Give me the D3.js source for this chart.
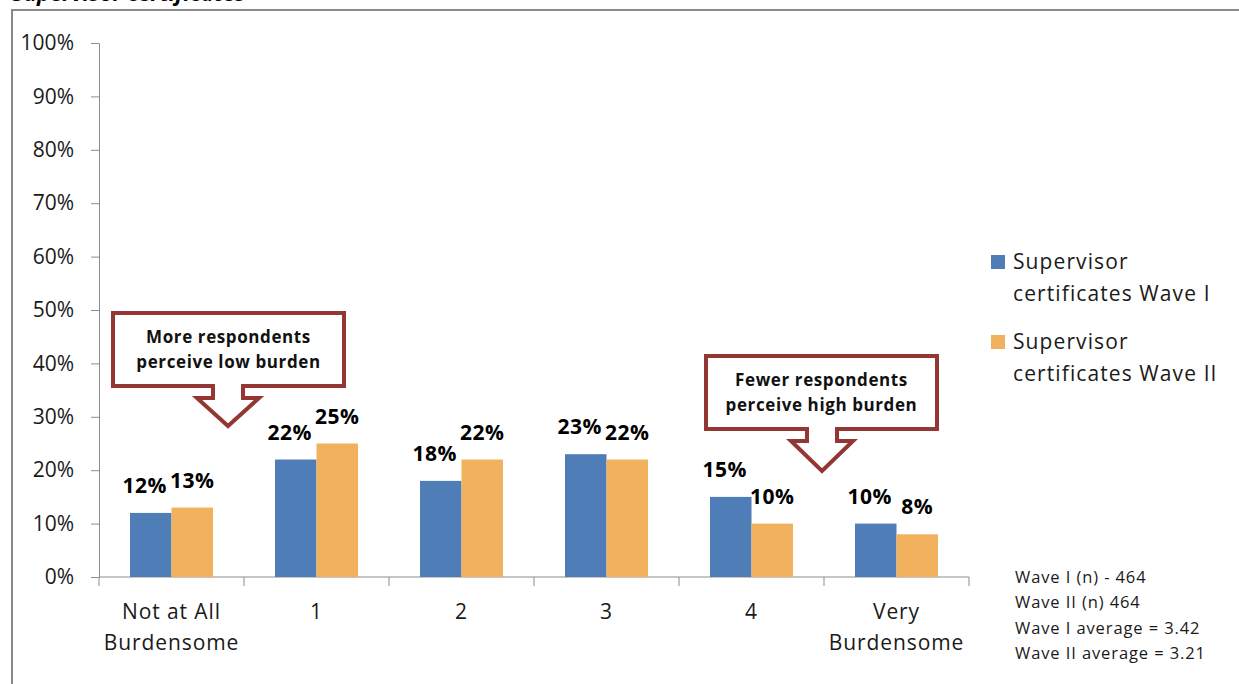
<!DOCTYPE html>
<html>
<head>
  <meta charset="utf-8">
  <title>Supervisor certificates burden</title>
  <script src="https://d3js.org/d3.v7.min.js"></script>
  <style>
    body { margin: 0; background: #fff; font-family: 'Open Sans', sans-serif; }
    svg { display: block; }
  </style>
</head>
<body>
  <div id="chart"></div>
  <script>
    // data
    const categories = ["Not at All|Burdensome", "1", "2", "3", "4", "Very|Burdensome"];
    const seriesNames = ["Supervisor|certificates Wave I", "Supervisor|certificates Wave II"];
    const waveOne = [0.12, 0.22, 0.18, 0.23, 0.15, 0.10];
    const waveTwo = [0.13, 0.25, 0.22, 0.22, 0.10, 0.08];
    const yTicks = [0, 0.1, 0.2, 0.3, 0.4, 0.5, 0.6, 0.7, 0.8, 0.9, 1.0];
    const notes = ["Wave I (n) - 464", "Wave II (n) 464", "Wave I average = 3.42", "Wave II average = 3.21"];
    const callouts = [
      { lines: ["More respondents", "perceive low burden"], cat: 0 },
      { lines: ["Fewer respondents", "perceive high burden"], cat: 4 }
    ];

    const colors = ["#4F7DB8", "#F2B15C"];
    const red = "#943634";

    const W = 1239, H = 684;
    const svg = d3.select("#chart").append("svg").attr("width", W).attr("height", H);

    // title, mostly above the top edge
    svg.append("text")
      .attr("x", 12).attr("y", 1)
      .attr("font-size", 22).attr("font-weight", "bold").attr("font-style", "italic")
      .attr("fill", "#000")
      .text("Supervisor certificates");

    // chart frame
    svg.append("path")
      .attr("d", `M12,${H + 5} L12,10 L${W + 5},10`)
      .attr("fill", "none").attr("stroke", "#8a8a8a").attr("stroke-width", 2);

    const x = d3.scaleBand().domain(d3.range(categories.length)).range([99, 969]);
    const x1 = d3.scaleBand().domain([0, 1]).range([31, x.bandwidth() - 31]);
    const y = d3.scaleLinear().domain([0, 1]).range([577, 43]);

    // y axis
    const yAxis = svg.append("g")
      .attr("transform", "translate(99,0)")
      .call(d3.axisLeft(y).tickValues(yTicks).tickFormat(d3.format(".0%")).tickSize(8).tickSizeOuter(0).tickPadding(17));
    yAxis.selectAll("path, line").attr("stroke", "#8c8c8c");
    yAxis.selectAll("text").attr("font-family", "'Open Sans', sans-serif").attr("font-size", 21).attr("fill", "#1a1a1a");

    // x axis line and boundary ticks
    svg.append("line")
      .attr("x1", 99).attr("x2", 969).attr("y1", y(0)).attr("y2", y(0))
      .attr("stroke", "#8c8c8c");
    const bounds = d3.range(categories.length + 1).map(i => i < categories.length ? x(i) : x(i - 1) + x.bandwidth());
    svg.selectAll(".xtick").data(bounds).enter().append("line")
      .attr("x1", d => d).attr("x2", d => d)
      .attr("y1", y(0)).attr("y2", y(0) + 9)
      .attr("stroke", "#8c8c8c");

    const xLabels = svg.selectAll(".xlab").data(categories).enter().append("text")
      .attr("text-anchor", "middle").attr("font-size", 21).attr("letter-spacing", 0.9).attr("fill", "#1a1a1a")
      .attr("transform", (d, i) => `translate(${x(i) + x.bandwidth() / 2},619)`);
    xLabels.selectAll("tspan").data(d => d.split("|")).enter().append("tspan")
      .attr("x", 0).attr("y", (d, i) => i * 31).text(d => d);

    // bars
    const series = [waveOne, waveTwo];
    series.forEach((vals, s) => {
      svg.selectAll(".bar" + s).data(vals).enter().append("rect")
        .attr("x", (d, i) => x(i) + x1(s))
        .attr("y", d => y(d))
        .attr("width", x1.bandwidth())
        .attr("height", d => y(0) - y(d))
        .attr("fill", colors[s]);

      svg.selectAll(".lab" + s).data(vals).enter().append("text")
        .attr("x", (d, i) => x(i) + x1(s) + x1.bandwidth() / 2 + (s === 0 ? -6 : 0))
        .attr("y", d => y(d) - 20)
        .attr("text-anchor", "middle")
        .attr("font-size", 21).attr("font-weight", "bold").attr("letter-spacing", 0.5).attr("fill", "#000")
        .text(d => d3.format(".0%")(d));
    });

    // callouts with down arrows
    const boxW = 231, boxH = 73;
    callouts.forEach(c => {
      const i = c.cat;
      const top = i === 0 ? 313 : 356;
      const left = i === 0 ? 113 : 706;
      const tipX = i === 0 ? 228 : 822;
      const tipY = top + boxH + (i === 0 ? 40 : 42);
      const b = top + boxH;
      const d = [
        [left, top], [left + boxW, top], [left + boxW, b],
        [tipX + 15, b], [tipX + 15, b + 12], [tipX + 31, b + 12], [tipX, tipY],
        [tipX - 31, b + 12], [tipX - 15, b + 12], [tipX - 15, b], [left, b]
      ];
      svg.append("path")
        .attr("d", d3.line()(d) + "Z")
        .attr("fill", "#fff").attr("stroke", red).attr("stroke-width", 4)
        .attr("stroke-linejoin", "miter");
      svg.append("text")
        .attr("text-anchor", "middle").attr("font-size", 17).attr("font-weight", "bold")
        .attr("letter-spacing", 0.6).attr("fill", "#111")
        .selectAll("tspan").data(c.lines).enter().append("tspan")
        .attr("x", left + boxW / 2).attr("y", (d, k) => top + 30 + k * 25).text(d => d);
    });

    // legend
    const legend = svg.append("g").attr("transform", "translate(991,0)");
    seriesNames.forEach((name, s) => {
      const ly = 255 + s * 80;
      legend.append("rect").attr("x", 0).attr("y", ly).attr("width", 14).attr("height", 14).attr("fill", colors[s]);
      legend.append("text").attr("font-size", 21).attr("letter-spacing", 1.1).attr("fill", "#1a1a1a")
        .selectAll("tspan").data(name.split("|")).enter().append("tspan")
        .attr("x", 22).attr("y", (d, k) => ly + 14 + k * 32).text(d => d);
    });

    // notes
    svg.append("text").attr("font-size", 16.5).attr("letter-spacing", 0.9).attr("fill", "#1a1a1a")
      .selectAll("tspan").data(notes).enter().append("tspan")
      .attr("x", 1015).attr("y", (d, k) => 583 + k * 25.3).text(d => d);
  </script>
</body>
</html>
